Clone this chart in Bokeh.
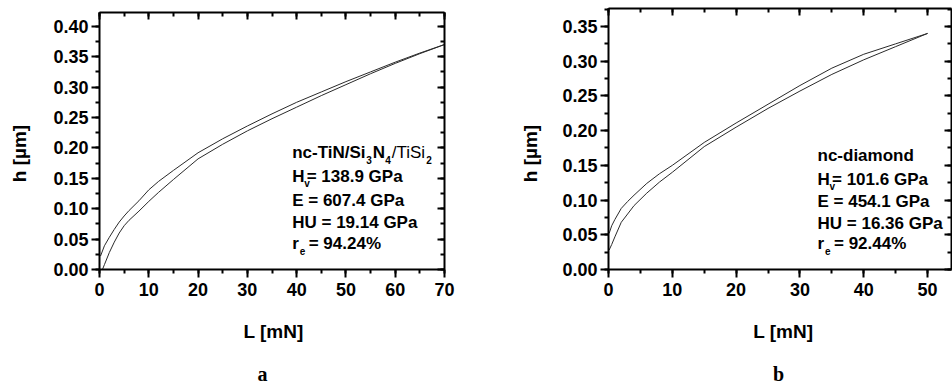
import math
from bokeh.plotting import figure
from bokeh.layouts import row
from bokeh.models import (Range1d, LinearAxis, SingleIntervalTicker, PrintfTickFormatter, Label,
                          CustomLabelingPolicy)
from bokeh.embed import file_html
from bokeh.resources import INLINE

# ---------------- data ----------------
# panel a : nc-TiN/Si3N4/TiSi2
a_load_L = [0.6, 1, 2, 3, 4, 5, 6, 8, 10, 12, 15, 20, 25, 30, 35, 40, 45, 50, 55, 60, 65, 70]
a_load_h = [0.000, 0.008, 0.028, 0.045, 0.060, 0.072, 0.081, 0.096, 0.112, 0.127, 0.148, 0.182,
            0.206, 0.228, 0.248, 0.267, 0.286, 0.304, 0.322, 0.339, 0.355, 0.370]
a_unload_L = [70, 65, 60, 55, 50, 45, 40, 35, 30, 25, 20, 15, 12, 10, 8, 6, 5, 4, 3, 2, 1, 0.2]
a_unload_h = [0.370, 0.356, 0.341, 0.325, 0.309, 0.292, 0.275, 0.256, 0.236, 0.215, 0.192, 0.163,
              0.145, 0.131, 0.113, 0.097, 0.088, 0.078, 0.066, 0.053, 0.039, 0.022]

# panel b : nc-diamond
b_load_L = [0.1, 0.5, 1, 2, 3, 4, 6, 8, 10, 15, 20, 25, 30, 35, 40, 45, 50]
b_load_h = [0.028, 0.036, 0.047, 0.068, 0.080, 0.092, 0.110, 0.126, 0.140, 0.177, 0.205, 0.232,
            0.257, 0.281, 0.302, 0.321, 0.340]
b_unload_L = [50, 45, 40, 35, 30, 25, 20, 15, 10, 8, 6, 4, 3, 2, 1, 0.5, 0.1]
b_unload_h = [0.340, 0.325, 0.310, 0.290, 0.265, 0.238, 0.211, 0.183, 0.150, 0.138, 0.124, 0.107,
              0.098, 0.088, 0.072, 0.063, 0.052]

a_title = ["nc-TiN/Si", "3", "N", "4", "/TiSi", "2"]
a_vals = ["= 138.9 GPa", "E = 607.4 GPa", "HU = 19.14 GPa", "= 94.24%"]
b_title = ["nc-diamond"]
b_vals = ["= 101.6 GPa", "E = 454.1 GPa", "HU = 16.36 GPa", "= 92.44%"]

x_label = "L [mN]"
y_label = "h [\u00b5m]"
panel_names = ["a", "b"]

# axis extents of each panel (data units)
a_xlim, a_ylim = (0, 70), (0, 0.4227)
b_xlim, b_ylim = (0, 53.75), (0, 0.3759)

# ---------------- styling / geometry (canvas pixels) ----------------
SANS = "Liberation Sans"
SERIF = "Liberation Serif"
CURVE = "#2a2a2a"

GEOM_A = dict(width=508, height=384, left=99, top=12, bw=345, bh=257, xr=a_xlim, yr=a_ylim)
GEOM_B = dict(width=444, height=384, left=100, top=8, bw=343, bh=261, xr=b_xlim, yr=b_ylim)

NO_LABELS = CustomLabelingPolicy(code="""
const arr = Array.from(indices)
for (const i of arr) {
  if (typeof indices.unset === "function") { indices.unset(i) } else { indices.delete(i) }
}
return indices
""")


def scales(g):
    sx = g["bw"] / (g["xr"][1] - g["xr"][0])
    sy = g["bh"] / (g["yr"][1] - g["yr"][0])
    return sx, sy


def to_data(g, cx, cy):
    """canvas pixel -> data coordinates (frame covers the whole canvas)"""
    sx, sy = scales(g)
    x = g["xr"][0] + (cx - g["left"]) / sx
    y = g["yr"][0] + (g["top"] + g["bh"] - cy) / sy
    return x, y


def style_axis(ax, inner=False):
    ax.axis_line_width = 2
    ax.axis_line_color = "black"
    ax.major_tick_line_width = 2
    ax.minor_tick_line_width = 2
    ax.major_tick_line_color = "black"
    ax.minor_tick_line_color = "black"
    if inner:
        ax.major_tick_in, ax.major_tick_out = 7, 0
        ax.minor_tick_in, ax.minor_tick_out = 4, 0
        ax.major_label_policy = NO_LABELS
        ax.major_label_standoff = 0
    else:
        ax.major_tick_in, ax.major_tick_out = 0, 8
        ax.minor_tick_in, ax.minor_tick_out = 0, 4
        ax.major_label_text_font = SANS
        ax.major_label_text_font_style = "bold"
        ax.major_label_text_font_size = "18px"
        ax.major_label_text_color = "black"


def make_panel(g):
    x0, y1 = to_data(g, 0, 0)
    x1, y0 = to_data(g, g["width"], g["height"])
    p = figure(width=g["width"], height=g["height"],
               x_range=Range1d(x0, x1), y_range=Range1d(y0, y1),
               output_backend="svg", toolbar_location=None,
               min_border_left=0, min_border_top=0, min_border_right=0, min_border_bottom=0)
    p.xgrid.visible = False
    p.ygrid.visible = False
    p.outline_line_color = None
    p.background_fill_color = "white"
    p.border_fill_color = "white"

    xlim, ylim = g["xr"], g["yr"]
    p.xaxis.ticker = SingleIntervalTicker(interval=10, num_minor_ticks=2)
    p.yaxis.ticker = SingleIntervalTicker(interval=0.05, num_minor_ticks=2)
    p.xaxis.formatter = PrintfTickFormatter(format="%d")
    p.yaxis.formatter = PrintfTickFormatter(format="%.2f")
    p.xaxis.major_label_standoff = 5
    p.yaxis.major_label_standoff = 3
    p.xaxis.fixed_location = ylim[0]
    p.yaxis.fixed_location = xlim[0]
    p.xaxis.bounds = xlim
    p.yaxis.bounds = ylim
    style_axis(p.xaxis[0])
    style_axis(p.yaxis[0])

    top = LinearAxis(ticker=SingleIntervalTicker(interval=10, num_minor_ticks=2),
                     fixed_location=ylim[1], bounds=xlim)
    right = LinearAxis(ticker=SingleIntervalTicker(interval=0.05, num_minor_ticks=2),
                       fixed_location=xlim[1], bounds=ylim)
    style_axis(top, inner=True)
    style_axis(right, inner=True)
    p.add_layout(top, "above")
    p.add_layout(right, "right")
    return p


def add_text(p, g, cx, cy, text, dx=0, size=17, style="bold", font=SANS,
             align="left", baseline="alphabetic", angle=0.0):
    if baseline == "alphabetic":
        cy = cy - 0.3 * size  # compensate the renderer's baseline placement
    x, y = to_data(g, cx, cy)
    p.add_layout(Label(x=x, y=y, text=text, x_offset=dx, text_font=font,
                       text_font_style=style, text_font_size=f"{size}px", text_color="black",
                       text_align=align, text_baseline=baseline, angle=angle))


def add_block(p, g, cx, baselines, title_parts, vals):
    SUB = 5  # px below baseline
    b0, b1, b2, b3, b4 = baselines
    if len(title_parts) == 1:
        add_text(p, g, cx, b0, title_parts[0])
    else:
        offs = [0, 74, 80.5, 93, 99.5, 134]
        kinds = ["b", "s", "b", "s", "n", "s"]
        for t, o, k in zip(title_parts, offs, kinds):
            if k == "s":
                add_text(p, g, cx, b0 + SUB, t, dx=o, size=10)
            else:
                add_text(p, g, cx, b0, t, dx=o, style="bold" if k == "b" else "normal")
    add_text(p, g, cx, b1, "H")
    add_text(p, g, cx, b1 + SUB, "v", dx=12, size=10)
    add_text(p, g, cx, b1, vals[0], dx=14.5)
    add_text(p, g, cx, b2, vals[1])
    add_text(p, g, cx, b3, vals[2])
    add_text(p, g, cx, b4, "r")
    add_text(p, g, cx, b4 + SUB, "e", dx=7.5, size=10)
    add_text(p, g, cx, b4, vals[3], dx=16.5)


def add_outer_texts(p, g, ylab_c, xlab_left, name_c):
    add_text(p, g, ylab_c[0], ylab_c[1], y_label, size=19, align="center",
             baseline="middle", angle=math.pi / 2)
    add_text(p, g, xlab_left, 337, x_label, size=19)
    add_text(p, g, name_c, 379, g["name"], size=20, font=SERIF, align="center")


# ---------------- panel a (canvas x = page x) ----------------
GEOM_A["name"] = panel_names[0]
pa = make_panel(GEOM_A)
pa.line(a_load_L, a_load_h, line_color=CURVE, line_width=1)
pa.line(a_unload_L, a_unload_h, line_color=CURVE, line_width=1)
add_block(pa, GEOM_A, 291.7, [157, 181, 205, 227, 248], a_title, a_vals)
add_outer_texts(pa, GEOM_A, ylab_c=(19, 153), xlab_left=243, name_c=262)

# ---------------- panel b (canvas x = page x - 508) ----------------
GEOM_B["name"] = panel_names[1]
pb = make_panel(GEOM_B)
pb.line(b_load_L, b_load_h, line_color=CURVE, line_width=1)
pb.line(b_unload_L, b_unload_h, line_color=CURVE, line_width=1)
add_block(pb, GEOM_B, 309, [160, 184, 206, 228, 248], b_title, b_vals)
add_outer_texts(pb, GEOM_B, ylab_c=(22, 153), xlab_left=244.7, name_c=270)

layout = row(pa, pb, spacing=0)
with open("out.html", "w") as f:
    f.write(file_html(layout, INLINE))
